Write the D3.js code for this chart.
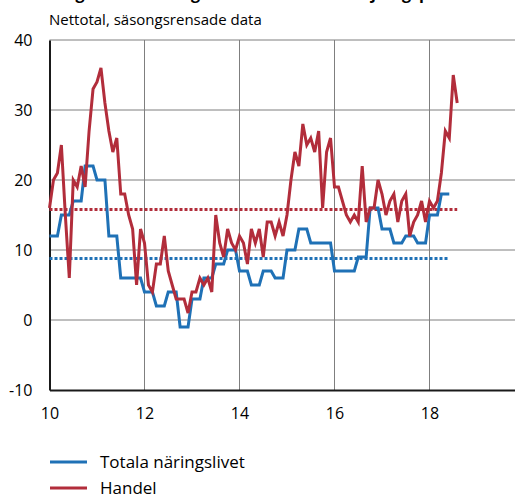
<html>
<head>
	<meta charset="utf-8">
	<style>
		body { margin: 0; background: white; }
		svg { display: block; font-family: "Open Sans", sans-serif; }
	</style>
	<script src="https://d3js.org/d3.v7.min.js"></script>
</head>
<body>
	<script>
		// Monthly, starting January 2010 (x = 10)
		var handel = [
			16, 20, 21, 25, 15, 6, 20, 19, 22, 19, 27, 33,
			34, 36, 31, 27, 24, 26, 18, 18, 15, 13, 5, 13,
			11, 5, 4, 8, 8, 12, 7, 5, 3, 3, 3, 1,
			4, 4, 6, 5, 6, 4, 15, 11, 9, 13, 11, 10,
			12, 11, 8, 13, 11, 13, 9, 14, 14, 12, 14, 12,
			15, 20, 24, 22, 28, 25, 26, 24, 27, 16, 24, 26,
			19, 19, 17, 15, 14, 15, 14, 22, 14, 16, 16, 20,
			18, 15, 17, 18, 14, 17, 18, 12, 14, 15, 17, 14,
			17, 16, 17, 21, 27, 26, 35, 31
		];
		// Quarterly, Q1 2010 onwards (each quarter plotted on its three months)
		var totalaKvartal = [
			12, 15, 17, 22,
			20, 12, 6, 6,
			4, 2, 4, -1,
			3, 6, 8, 10,
			7, 5, 7, 6,
			10, 13, 11, 11,
			7, 7, 9, 16,
			13, 11, 12, 11,
			15, 18
		];
		var handelMedel = 15.8;
		var totalaMedel = 8.8;

		var xTicks = [10, 12, 14, 16, 18];
		var yTicks = [-10, 0, 10, 20, 30, 40];
		var seriesNames = ["Totala näringslivet", "Handel"];
		var colors = ["#1f71b6", "#b22d3b"];

		var width = 515, height = 495;
		var x = d3.scaleLinear().domain([10, 20]).range([49.5, 524.5]);
		var y = d3.scaleLinear().domain([-10, 40]).range([390, 40]);

		var svg = d3.select("body").append("svg")
			.attr("width", width)
			.attr("height", height);

		// Title (cut off at the top edge) and subtitle
		svg.append("text")
			.attr("x", 49).attr("y", -1)
			.style("font-size", "16px").style("font-weight", "bold")
			.text("Diagram 5. Företagens förväntade försäljningspriser");
		svg.append("text")
			.attr("x", 49).attr("y", 25)
			.style("font-size", "15px")
			.text("Nettotal, säsongsrensade data");

		// Grid
		svg.append("g").selectAll("line")
			.data(yTicks.filter(function(t) { return t > -10; }))
			.enter().append("line")
			.attr("x1", x(10)).attr("x2", width)
			.attr("y1", function(d) { return y(d); })
			.attr("y2", function(d) { return y(d); })
			.attr("stroke", "#7f7f7f").attr("stroke-width", 1);
		svg.append("g").selectAll("line")
			.data(xTicks.filter(function(t) { return t > 10; }))
			.enter().append("line")
			.attr("x1", function(d) { return x(d); })
			.attr("x2", function(d) { return x(d); })
			.attr("y1", y(40)).attr("y2", y(-10))
			.attr("stroke", "#7f7f7f").attr("stroke-width", 1);

		// Axes (plain hyphen for negatives, as in the original)
		var fmt = function(d) { return String(d); };
		var yAxis = svg.append("g")
			.attr("transform", "translate(" + x(10) + ",0)")
			.call(d3.axisLeft(y).tickValues(yTicks).tickSize(0).tickPadding(17).tickFormat(fmt));
		var xAxis = svg.append("g")
			.attr("transform", "translate(0," + y(-10) + ")")
			.call(d3.axisBottom(x).tickValues(xTicks).tickSize(0).tickPadding(18).tickFormat(fmt));
		[yAxis, xAxis].forEach(function(a) {
			a.attr("font-family", null).attr("font-size", null);
			a.selectAll("text").style("font-size", "16px").attr("fill", "#000");
			a.select(".domain").attr("stroke", "#1a1a1a").attr("stroke-width", 2);
		});

		// Series as monthly points
		var monthX = function(i) { return 10 + i / 12; };
		var handelData = handel.map(function(v, i) { return [monthX(i), v]; });
		var totalaData = [];
		totalaKvartal.forEach(function(v, q) {
			for (var k = 0; k < 3; k++) totalaData.push([monthX(q * 3 + k), v]);
		});

		var line = d3.line()
			.x(function(d) { return x(d[0]); })
			.y(function(d) { return y(d[1]); });

		// Averages, dotted
		var averages = [
			{ v: totalaMedel, from: totalaData[0][0], to: totalaData[totalaData.length - 1][0], c: colors[0] },
			{ v: handelMedel, from: handelData[0][0], to: handelData[handelData.length - 1][0], c: colors[1] }
		];
		svg.append("g").selectAll("line")
			.data(averages).enter().append("line")
			.attr("x1", function(d) { return x(d.from); })
			.attr("x2", function(d) { return x(d.to); })
			.attr("y1", function(d) { return y(d.v); })
			.attr("y2", function(d) { return y(d.v); })
			.attr("stroke", function(d) { return d.c; })
			.attr("stroke-width", 3)
			.attr("stroke-dasharray", "3,2");

		svg.append("path")
			.datum(totalaData)
			.attr("d", line)
			.attr("fill", "none")
			.attr("stroke", colors[0])
			.attr("stroke-width", 3);
		svg.append("path")
			.datum(handelData)
			.attr("d", line)
			.attr("fill", "none")
			.attr("stroke", colors[1])
			.attr("stroke-width", 3);

		// Legend
		var legend = svg.append("g").selectAll("g")
			.data(seriesNames).enter().append("g")
			.attr("transform", function(d, i) { return "translate(50," + (462 + i * 26) + ")"; });
		legend.append("line")
			.attr("x1", 0).attr("x2", 37)
			.attr("stroke", function(d, i) { return colors[i]; })
			.attr("stroke-width", 3);
		legend.append("text")
			.attr("x", 50).attr("y", 6)
			.style("font-size", "17px")
			.text(function(d) { return d; });
	</script>
</body>
</html>
